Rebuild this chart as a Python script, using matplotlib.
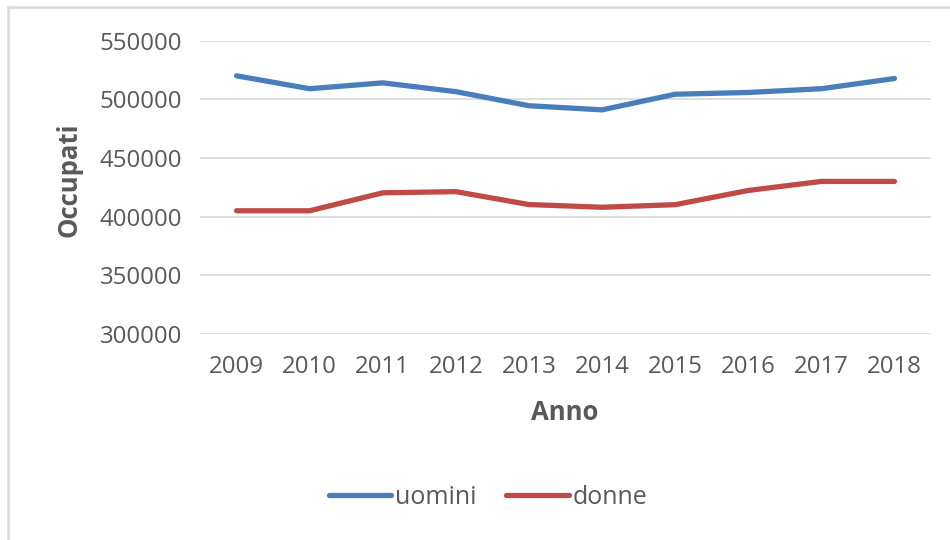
import matplotlib.pyplot as plt
from matplotlib.lines import Line2D

anni = ['2009', '2010', '2011', '2012', '2013', '2014', '2015', '2016', '2017', '2018']
uomini = [520000, 509000, 514000, 506500, 494500, 491000, 504300, 505800, 509000, 517700]
donne = [405000, 405000, 420300, 421300, 410300, 408000, 410200, 422300, 430000, 430000]
y_ticks = [300000, 350000, 400000, 450000, 500000, 550000]

plt.rcParams['font.family'] = ['Open Sans', 'DejaVu Sans']
grigio = '#595959'

fig = plt.figure(figsize=(9.5, 5.4), dpi=100)
ax = fig.add_axes([200 / 950, 1 - 334 / 540, 731 / 950, (334 - 40.6) / 540])

x = list(range(len(anni)))
ax.plot(x, uomini, color='#4A7EBB', lw=3.8, solid_capstyle='round', solid_joinstyle='round', label='uomini')
ax.plot(x, donne, color='#BE4B48', lw=3.8, solid_capstyle='round', solid_joinstyle='round', label='donne')

ax.set_xlim(-0.5, len(anni) - 0.5)
ax.set_ylim(300000, 550000)
ax.set_yticks(y_ticks)
ax.set_yticklabels([str(v) for v in y_ticks])
ax.set_xticks(x)
ax.set_xticklabels(anni)
ax.tick_params(axis='both', length=0, labelsize=17.3, colors=grigio)
ax.tick_params(axis='y', pad=13)
ax.tick_params(axis='x', pad=15)
ax.grid(axis='y', color='#D9D9D9', lw=1.2)
ax.set_axisbelow(True)
for s in ax.spines.values():
    s.set_visible(False)

fig.text(565 / 950, 1 - 412 / 540, 'Anno', ha='center', va='center',
         fontsize=18.5, fontweight='bold', color=grigio)
fig.text(69 / 950, 1 - 180 / 540, 'Occupati', ha='center', va='center', rotation=90,
         fontsize=18.5, fontweight='bold', color=grigio)

fig.legend(loc='center', bbox_to_anchor=(488 / 950, 1 - 497 / 540), ncol=2, frameon=False,
           fontsize=18, labelcolor=grigio, handlelength=2.5, handletextpad=0.15,
           columnspacing=1.2)

# bordo del grafico
fig.add_artist(Line2D([8 / 950, 8 / 950], [0, 1 - 7 / 540], color='#D9D9D9', lw=1.8))
fig.add_artist(Line2D([8 / 950, 1], [1 - 7 / 540, 1 - 7 / 540], color='#D9D9D9', lw=1.8))

fig.savefig('out.png', dpi=100)
